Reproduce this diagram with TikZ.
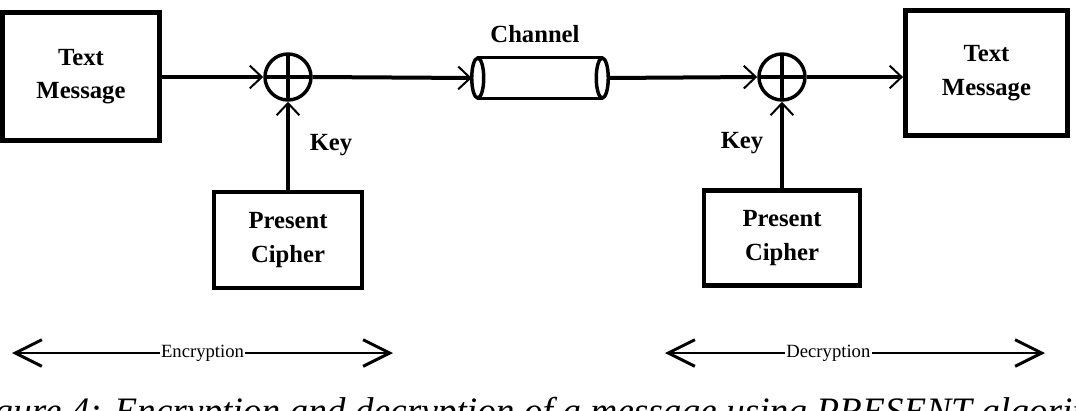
\documentclass[tikz,border=0pt]{standalone}
\usepackage{fontspec}
\setmainfont{Liberation Serif}
\usetikzlibrary{arrows.meta,positioning}
\tikzset{
  msgbox/.style={draw,line width=3.6pt,align=center,inner sep=0pt,
                 font=\bfseries\fontsize{18.5}{25}\selectfont},
  xorop/.style={draw,circle,line width=2.6pt,minimum size=34.5pt,inner sep=0pt,
                path picture={\draw[line width=2.6pt]
                  (path picture bounding box.north) -- (path picture bounding box.south)
                  (path picture bounding box.west) -- (path picture bounding box.east);}},
  flow/.style={line width=3pt,-{Straight Barb[length=9pt,width=17pt,line width=1.5pt]}},
  span/.style={line width=2.2pt,
               {Straight Barb[length=20pt,width=20pt,line width=2.2pt]}-{Straight Barb[length=20pt,width=20pt,line width=2.2pt]}},
  lbl/.style={font=\bfseries\fontsize{18.5}{25}\selectfont,inner sep=1pt},
  spanlbl/.style={font=\fontsize{14}{16}\selectfont,fill=white,inner sep=1pt},
}

\begin{document}
\begin{tikzpicture}[x=0.75pt,y=-0.75pt]
  \useasboundingbox (0,0) rectangle (1076,411);

  % sender side
  \node[msgbox,minimum width=117.75pt,minimum height=96pt] (msgL) at (81,76.5) {Text\\Message};
  \node[xorop] (xorL) at (288,77) {};
  \node[msgbox,minimum width=111pt,minimum height=72pt] (cipL) at (288,240) {Present\\Cipher};
  \node[lbl] (keyL) at (331,145) {Key};

  % channel
  \node[minimum width=93pt,minimum height=30pt,inner sep=0pt] (chan) at (540,78) {};
  \draw[line width=2.6pt] (chan.north west) -- (chan.north east)
                          (chan.south west) -- (chan.south east);
  \draw[line width=2.6pt] (chan.west) ellipse [x radius=4.5pt,y radius=15pt];
  \draw[line width=2.6pt] (chan.east) ellipse [x radius=4.5pt,y radius=15pt];
  \node[lbl] (chanlbl) at (535,34) {Channel};

  % receiver side
  \node[xorop] (xorR) at (782,77) {};
  \node[msgbox,minimum width=117pt,minimum height=71pt] (cipR) at (782,238) {Present\\Cipher};
  \node[lbl] (keyR) at (742,143) {Key};
  \node[msgbox,minimum width=121.5pt,minimum height=94pt] (msgR) at (986.5,73) {Text\\Message};

  \draw[flow] (msgL.east |- xorL) -- (xorL.west);
  \draw[flow] (cipL.north) -- (xorL.south);
  \draw[flow] (xorL.east) -- ([xshift=-4.5pt]chan.west);
  \draw[flow] ([xshift=4.5pt]chan.east) -- (xorR.west);
  \draw[flow] (cipR.north) -- (xorR.south);
  \draw[flow] (xorR.east) -- (xorR.east -| msgR.west);

  % spans
  \coordinate (encA) at (12,353);
  \coordinate (encB) at (393,353);
  \coordinate (decA) at (665,353);
  \coordinate (decB) at (1045,353);
  \draw[span] (encA) -- node[spanlbl] (enclbl) {Encryption} (encB);
  \draw[span] (decA) -- node[spanlbl,pos=0.43] (declbl) {Decryption} (decB);

  % caption, cut by the page edge as in the source
  \node[anchor=base west,inner sep=0pt,font=\itshape\fontsize{28}{32}\selectfont] (capt) at (-39,423)
    {Figure 4: Encryption and decryption of a message using PRESENT algorithm};
\end{tikzpicture}
\end{document}
